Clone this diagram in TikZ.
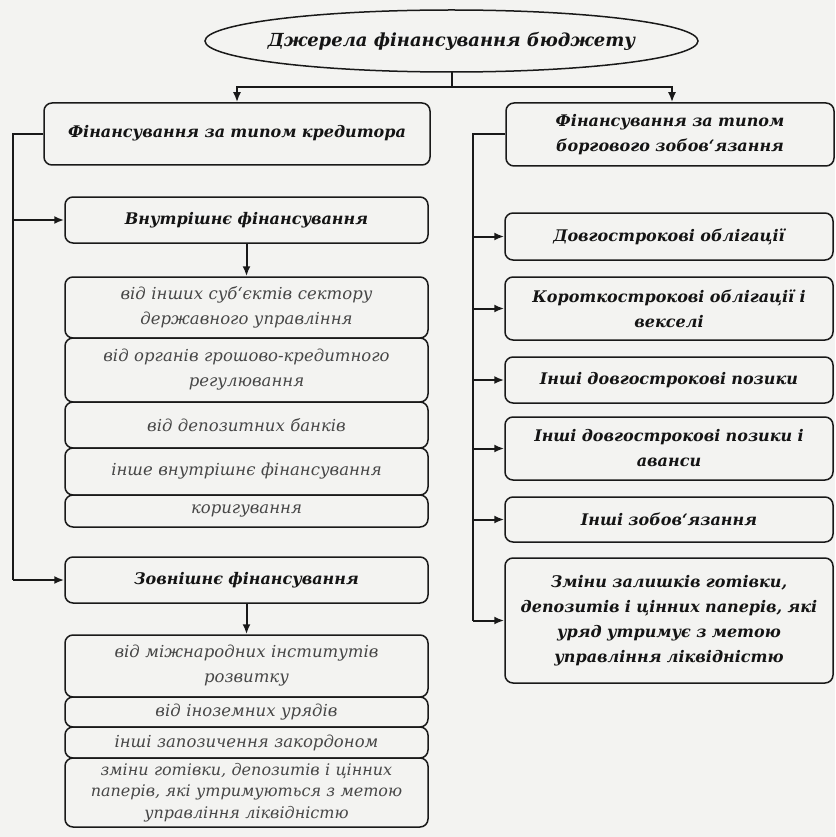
\documentclass[tikz,border=0pt]{standalone}
\usepackage{fontspec}
\setmainfont{DejaVu Serif}
\usetikzlibrary{shapes.geometric,arrows.meta}
\definecolor{bgc}{RGB}{243,243,241}
\definecolor{linec}{RGB}{25,25,25}
\definecolor{subtxt}{RGB}{70,70,70}
\definecolor{headtxt}{RGB}{20,20,20}
\begin{document}
\begin{tikzpicture}[x=1pt,y=-1pt,
  box/.style={draw=linec, line width=1.5pt, rounded corners=8pt, align=center, inner sep=1pt},
  head/.style={box, text=headtxt, font=\fontsize{16}{25}\selectfont\bfseries\itshape},
  sub/.style={box, text=subtxt, font=\fontsize{16.5}{25}\selectfont\itshape},
  lcol/.style={minimum width=363pt, text width=355pt},
  rcol/.style={minimum width=328pt, text width=318pt},
  conn/.style={draw=linec, line width=2pt},
  arr/.style={conn, -{Latex[length=10pt,width=8pt]}}]
\fill[bgc] (0,0) rectangle (835,837);
\useasboundingbox (0,0) rectangle (835,837);

% top
\node[minimum width=493pt, minimum height=62pt, inner sep=0pt,
  text=headtxt, font=\fontsize{18}{22}\selectfont\bfseries\itshape] (src) at (451.5,41) {Джерела фінансування бюджету};
\draw[linec, line width=1.5pt] (src.center) ellipse [x radius=246.5, y radius=31];
\node[head, minimum width=386pt, text width=370pt, minimum height=62pt] (L1) at (237,134) {\raisebox{6pt}{Фінансування за типом кредитора}};
\node[head, rcol, minimum height=63pt] (R1) at (670,134.5) {Фінансування за типом\\боргового зобов`язання};

% left column
\node[head, lcol, minimum height=46pt] (Int) at (246.5,220) {Внутрішнє фінансування};
\node[sub, lcol, minimum height=61pt] (i1) at (246.5,307.5) {від інших суб`єктів сектору\\державного управління};
\node[sub, lcol, minimum height=64pt] (i2) at (246.5,370) {від органів грошово-кредитного\\регулювання};
\node[sub, lcol, minimum height=46pt] (i3) at (246.5,425) {від депозитних банків};
\node[sub, lcol, minimum height=47pt] (i4) at (246.5,471.5) {інше внутрішнє фінансування};
\node[sub, lcol, minimum height=32pt] (i5) at (246.5,511) {коригування};

\node[head, lcol, minimum height=46pt] (Ext) at (246.5,580) {Зовнішнє фінансування};
\node[sub, lcol, minimum height=62pt] (e1) at (246.5,666) {від міжнародних інститутів\\розвитку};
\node[sub, lcol, minimum height=30pt] (e2) at (246.5,712) {від іноземних урядів};
\node[sub, lcol, minimum height=31pt] (e3) at (246.5,742.5) {інші запозичення закордоном};
\node[sub, lcol, minimum height=69pt, font=\fontsize{16}{21.5}\selectfont\itshape] (e4) at (246.5,792.5) {зміни готівки, депозитів і цінних\\паперів, які утримуються з метою\\управління ліквідністю};

% right column
\node[head, rcol, minimum height=47pt] (R2) at (669,236.5) {Довгострокові облігації};
\node[head, rcol, minimum height=63pt] (R3) at (669,308.5) {Короткострокові облігації і\\векселі};
\node[head, rcol, minimum height=46pt] (R4) at (669,380) {Інші довгострокові позики};
\node[head, rcol, minimum height=63pt] (R5) at (669,448.5) {Інші довгострокові позики і\\аванси};
\node[head, rcol, minimum height=45pt] (R6) at (669,519.5) {Інші зобов`язання};
\node[head, rcol, minimum height=125pt] (R7) at (669,620.5) {Зміни залишків готівки,\\депозитів і цінних паперів, які\\уряд утримує з метою\\управління ліквідністю};

% connectors from the top
\coordinate (jn) at (451.5,87);
\draw[conn] (src.south) -- (jn);
\draw[arr] (jn) -| (L1.north);
\draw[arr] (jn) -| ([xshift=2pt]R1.north);

% left trunk
\coordinate (tl) at (13,0);
\draw[conn] (L1.west) -- (L1.west -| tl) -- (Ext.west -| tl);
\draw[arr] (Int.west -| tl) -- (Int.west);
\draw[arr] (Ext.west -| tl) -- (Ext.west);
\draw[arr] (Int.south) -- (i1.north);
\draw[arr] (Ext.south) -- (e1.north);

% right trunk
\coordinate (tr) at (473,0);
\draw[conn] (R1.west) -- (R1.west -| tr) -- (R7.west -| tr);
\foreach \n in {R2,R3,R4,R5,R6,R7}
  \draw[arr] (\n.west -| tr) -- (\n.west);
\end{tikzpicture}
\end{document}
